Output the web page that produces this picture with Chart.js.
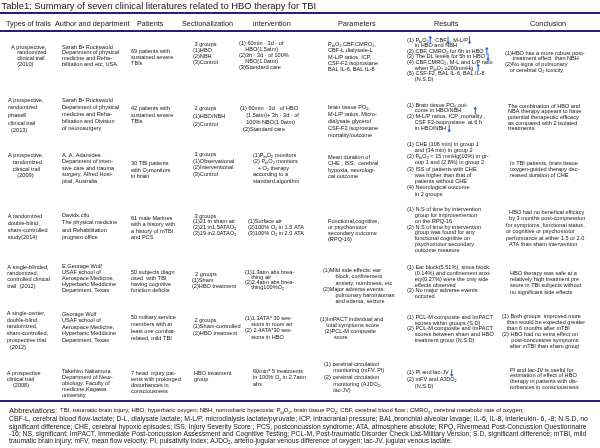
<!DOCTYPE html>
<html>
<head>
<meta charset="utf-8">
<script src="https://cdn.jsdelivr.net/npm/chart.js@4"></script>
<style>
  html, body { margin: 0; padding: 0; background: #fff; }
  canvas { display: block; }
</style>
</head>
<body>
<canvas id="chart" width="600" height="448"></canvas>
<script>
// table text (subscripts written as _2 or _{bt}, arrows as ↑ ↓)
const title = "Table1: Summary of seven clinical literatures related to HBO therapy for TBI";
const columns = ["Types of trails", "Author and department", "Patients", "Sectionalization",
                 "intervention", "Parameters", "Results", "Conclusion"];

const trialTypes = [
  ["A prospective,", "    randomized", "    clinical trail", "    (2010)"],
  ["A prospective,", "randomized", "phaseⅡ", "clinical trail", "  (2013)"],
  ["A prospective,", "   randomized", "   clinical trail", "      (2009)"],
  ["A randomized", "double-blind,", "sham-controlled", "study(2014)"],
  ["A single-blinded,", "randomized,", "controlled clinical", "trail  (2012)"],
  ["A single-center,", "double-blind,", "randomized,", "sham-controlled,", "prospective trial", "  (2012)"],
  ["A prospective", "clinical trail", "    (2008)"]
];
const authors = [
  ["Sarah B• Rockswold", "Department of physical", "medicine and Reha-", "bilitation and etc, USA"],
  ["Sarah B• Rockswold", "Department of physical", "medicine and Reha-", "bilitation and Division", "of neurosurgery"],
  ["A. A. Adamides", "Department of inten-", "sive care and trauma", "surgery, Alfred Hosi-", "pital, Australia"],
  ["Davidx.cifu", "The physical medicine", "and Rehabilitation", "program office"],
  ["E.Georage Wolf", "USAF school of", "Aerospace Medicine,", "Hyperbaric Meddicine", "Department, Texas"],
  ["Georage Wolf", "USAF school of", "Aerospace Medicine,", "Hyperbaric Meddicine", "Department, Texas"],
  ["Takehiro Nakamura", "Department of Neur-", "obiology, Faculty of", "medicine,Kagawa", "university"]
];
const patients = [
  ["69 patients with", "sustained severe", "TBIs"],
  ["42 patients with", "sustained severe", "TBIs"],
  ["30 TBI patients", "with O_2monitors", "in brain"],
  ["61 male Marines", "with a history with", "a history of mTBI", "and PCS"],
  ["50 subjects diagn", "osed  with TBI", "having cognitive", "function deficits"],
  ["50 military service", "members with at", "least one combat-", "related, mild TBI"],
  ["7 head  injury pat-", "ients with prolonged", "disturbances in", "consciousness"]
];
const groups = [
  [" 3 groups:", "(1)HBO", "(2)NBH", "(3)Control"],
  [" 2 groups", "(1)HBO/NBH", "(2)Control"],
  [" 3 groups", "(1)Observational", "(2)Interventional", "(3)Control"],
  [" 3 groups", "(1)21 in sham air", "(2)21 in1.5ATAO_2", "(3)19 in2.0ATAO_2"],
  ["  2 groups", "(1)Sham", "(2)HBO treatment"],
  [" 2 groups", "(1)Sham-controlled", "(2)HBO treatment"],
  ["HBO treatment", "group"]
];
const interventions = [
  ["(1) 60min · 3d · of", "    HBO(1.5atm)", "(2)3h · 3d · of 100%", "    NBO(1.0atm)", "(3)Standard care"],
  ["(1) 60min · 3d · of HBO", "    (1.5atm)+ 3h · 3d · of", "    100% NBO(1.0atm)", "  (2)Standard care"],
  ["(1)P_{bt}O_2 monitors", "(2) P_{bt}O_2 monitors", "   + O_2 therapy", "according to a", "standard algorithm"],
  ["(1)Surface air", "(2)100% O_2 in 1.5 ATA", "(3)100% O_2 in 2.0 ATA"],
  ["(1)1.3atm abs brea-", "    thing air", "(2)2.4atm abs brea-", "    thing100%O_2"],
  ["(1)1.3ATA* 30 ses-", "    sions in room air", "(2) 2.4ATA*30 ses-", "    sions in HBO"],
  ["60min* 5 treatments", "in 100% O_2 in 2.7atm", "abs"]
];
const parameters = [
  ["P_{bt}O_2,CBF,CMRO_2,", "CBF-L,dialysate-L", "M-L/P ratios, ICP,", "CSF-F2 isoprostane", "BAL IL-6, BAL IL-8"],
  ["brain tissue PO_2,", "M-L/P ratios. Micro-", "dialysate glycerol", "CSF-F2 isoprostane", "mortality/outcome"],
  ["Mean duration of", "CHE , ISS,  cerebral", "hypoxia, neurologi-", "cal outcome"],
  ["Functional,cognitive,", "or psychomotor", "secondary outcome", "(RPQ-16)"],
  ["(1)Mild side effects: ear", "        block, confinement", "        anxiety, numbness, etc", "(2)Major adverse events:",
   "        pulmonary barotraumas", "        and edema, seizure"],
  ["(1)ImPACT individual and", "    total symptoms score", "   (2)PCL-M composite", "         score"],
  ["(1) cerebral circulation", "      monitoring (mFV, PI)", "(2) cerebral circulation", "      monitoring (AJDO_2,", "      lac-JV)"]
];
const results = [
  ["(1) P_{bt}O_2↑, CBF↓, M-L/P↓", "     in HBO and NBH", "(2) CBF, CMRO_2 for 6h in HBO ↑", "(3) The DL levels for 5h in HBO ↓",
   "(4) CBF,CMRO_2, M-L and L/P ratio", "     when P_{bt}O_2 ≥200mmHg  ↑", "(5) CSF-F2, BAL IL-6, BAL IL-8", "     (N.S.D)"],
  ["(1) Brain tissue PO_2,out-", "     come in HBO/NBH        ↑", "(2) M-L/P ratios, ICP ,mortality ,",
   "     CSF F2-isoprostane  at 6 h", "     in HBO/NBH ↓"],
  ["(1) CHE (106 min) in group 1", "     and (34 min) in group 2", "(2) P_{bt}O_2 < 15 mmHg(10%) in gr-", "     oup 1 and (2.8%) in group 2",
   "(3) ISS of patients with CHE", "     was higher than that of", "     patients without CHE", "(4) Neurological outcome", "     in 2 groups"],
  ["(1) N.S of time by intervention", "     group for improvementon", "     on the RPQ-16", "(2) N.S of time by intervention",
   "     group was found for any", "     functional cognitive on", "     psychomotor secondary", "     outcome measure"],
  ["(1) Ear block(5.51%), sinus block", "     (0.14%) and confinement anxi-", "     ety(0.27%) were the only side",
   "     effects observed", "(2) No major adverse events", "     occured"],
  ["(1) PCL-M composite and ImPACT", "     scores within groups (S.D)", "(2) PCL-M composite and ImPACT",
   "     scores between sham and HBO", "     treatment group (N.S.D)"],
  ["(1) PI and lac-JV ↓", "(2) mFV and AJDO_2", "     (N.S.D)"]
];
const conclusions = [
  ["(1)HBO has a more robust post-", "     treatment effect  than NBH", "(2)No signs of pulmonary", "   or cerebral O_2 toxicity"],
  ["The combination of HBO and", "NBA therapy appears to have", "potential therapeutic efficacy", "as compared with 2 isolated", "treatments"],
  ["In TBI patients, brain tissue", "oxygen-guided therapy dec-", "reased duration of CHE"],
  ["  HBO had no benefical efficacy", "  by 3 months post-compression", "for symptoms ,functional status ,",
   "or cognitive or psychomotor", "performance at either 1.5 or 2.0", "  ATA than sham intervention"],
  ["HBO therapy was safe at a", "relatively high treatment pre", "ssure in TBI subjects without", "no significant side effects"],
  ["(1) Both groups  improved more", "   than would be expected greater", "   than 6 months after mTBI",
   "(2) HBO had no extra effect on", "      post-concussive symptoms", "     after mTBI than sham group"],
  ["PI and lac-JV is useful for", "estimation of effect of HBO", "therapy in patients with dis-", "turbances in consciousness"]
];
const abbrLabel = "Abbreviations:";
const abbreviations = [
  "TBI, traumatic brain injury; HBO, hyperbaric oxygen; NBH, normobaric hyperoxia; P_{bt}O_2, brain tissue PO_2; CBF, cerebral blood flow ; CMRO_2, cerebral metabolic rate of oxygen;",
  "CBF-L, cerebral blood flow-lactate; D-L, dialysate lactate; M-L/P, microdialysis lactate/pyruvate; ICP, intracranial pressure; BAL,bronchial alveolar lavage; IL-6, IL-8, interleukin- 6, -8; N.S.D, no",
  "significant difference; CHE, cerebral hypoxic episodes; ISS, Injury Severity Score ; PCS, postconcussion syndrome; ATA, atmosphere absolute; RPQ, Rivermead Post-Concussion Questionnaire",
  "-16; NS, significant; ImPACT, Immediate Post-concussion Assessment and Cognitive Testing; PCL-M, Post-traumatic Disorder Check List-Military Version; S.D, significant difference; mTBI, mild",
  "traumatic brain injury; mFV, mean flow velocity; PI, pulsativity index; AJDO_2, arterio-jugular venous difference of oxygen; lac-JV, jugular venous lactate."
];

const tableCols = [trialTypes, authors, patients, groups, interventions, parameters, results, conclusions];

// layout (canvas units)
const FONT = '"Liberation Sans", Arial, sans-serif';
const headerX = [6, 55, 137, 182, 253, 338, 434, 530];
const cellX = [
  [11, 62, 131, 193, 239, 328, 407, 505],
  [8, 62, 131, 193, 240, 328, 407, 508],
  [8, 62, 131, 193, 253, 328, 407, 510],
  [7.7, 62, 131, 193, 248, 328, 407, 506],
  [7.3, 62, 131, 192, 245, 323, 407, 510],
  [6.7, 62, 131, 193, 245, 320, 407, 502],
  [6.7, 62, 131, 194, 253, 324, 407, 510]
];
const cellTop = [
  [47, 47, 51, 44, 43, 44.5, 40, 53],
  [100, 100, 108.7, 108.7, 108, 107, 105, 106],
  [155.7, 155, 163.3, 154.5, 155, 157.7, 144, 163.3],
  [216.7, 215.5, 218, 216, 221.7, 221, 209.3, 212],
  [267.3, 266, 272.7, 274, 272, 270.7, 267.7, 273.3],
  [313.3, 314, 317, 320, 318.5, 319.3, 317.3, 316.7],
  [373.3, 371.7, 373.3, 373.3, 371.7, 364, 372.7, 370]
];
const cellGap = [
  [5.8, 5.8, 6, 6, 6, 6.3, 5.6, 5.8],
  [7.7, 7.2, 6.3, 8, 7, 7, 5.8, 5.7],
  [6.7, 6.5, 6.7, 6.7, 6.5, 6.2, 6.25, 6],
  [6.9, 7.3, 6.5, 5.8, 5.8, 6.3, 5.9, 6.5],
  [6.3, 6.1, 5.9, 6.3, 5, 6.2, 5.8, 6.3],
  [6.8, 6.5, 7, 6.5, 6.2, 6, 5.7, 5.9],
  [6.3, 5.9, 5.9, 6, 6.2, 6.7, 6.7, 5.9]
];
const ruleY = [13, 31, 401];
const abbrY = [410.7, 419, 426.7, 434, 441.3];
const abbrRight = [525, 588, 588, 588, 453];

function drawRich(ctx, str, x, y, size, color) {
  let cx = x, i = 0;
  while (i < str.length) {
    const ch = str[i];
    if (ch === '_') {
      let sub;
      if (str[i + 1] === '{') { const j = str.indexOf('}', i); sub = str.slice(i + 2, j); i = j + 1; }
      else { sub = str[i + 1]; i += 2; }
      ctx.font = `${size * 0.68}px ${FONT}`;
      ctx.fillStyle = color;
      ctx.fillText(sub, cx, y + size * 0.28);
      cx += ctx.measureText(sub).width;
      continue;
    }
    if (ch === '↑' || ch === '↓') {
      const up = ch === '↑';
      const h = size * 0.62;
      ctx.save();
      ctx.strokeStyle = '#2457d6';
      ctx.fillStyle = '#2457d6';
      ctx.lineWidth = 1;
      ctx.beginPath();
      ctx.moveTo(cx + 1.5, y - h);
      ctx.lineTo(cx + 1.5, y + h);
      ctx.stroke();
      ctx.beginPath();
      const tip = up ? y - h - 0.8 : y + h + 0.8;
      const base = up ? tip + 2.6 : tip - 2.6;
      ctx.moveTo(cx + 1.5, tip);
      ctx.lineTo(cx - 0.3, base);
      ctx.lineTo(cx + 3.3, base);
      ctx.closePath();
      ctx.fill();
      ctx.restore();
      cx += 3.5;
      i++;
      continue;
    }
    let j = i;
    while (j < str.length && !'_↑↓'.includes(str[j])) j++;
    const run = str.slice(i, j);
    ctx.font = `${size}px ${FONT}`;
    ctx.fillStyle = color;
    ctx.fillText(run, cx, y);
    cx += ctx.measureText(run).width;
    i = j;
  }
  return cx - x;
}

function richWidth(ctx, str, size) {
  ctx.save();
  ctx.globalAlpha = 0;
  const w = drawRich(ctx, str, 0, -50, size, '#000');
  ctx.restore();
  return w;
}

const tablePlugin = {
  id: 'tableText',
  afterDatasetsDraw(chart) {
    const ctx = chart.ctx;
    const sx = chart.scales.x, sy = chart.scales.y;
    const px = v => sx.getPixelForValue(v);
    const py = v => sy.getPixelForValue(v);
    const ink = '#161616';
    ctx.save();
    ctx.textBaseline = 'middle';
    ctx.textAlign = 'left';

    drawRich(ctx, title, px(1.5), py(6), 9.4, ink);

    columns.forEach((name, c) => drawRich(ctx, name, px(headerX[c]), py(24), 7.3, ink));

    tableCols.forEach((col, c) => {
      col.forEach((lines, r) => {
        lines.forEach((line, k) => {
          const y = cellTop[r][c] + k * cellGap[r][c];
          drawRich(ctx, line, px(cellX[r][c]), py(y), 5.6, ink);
        });
      });
    });

    // abbreviations footnote: each line sized to its width in the source
    const labW = drawRich(ctx, abbrLabel, px(9), py(abbrY[0]), 7.6, ink);
    abbreviations.forEach((line, k) => {
      const x0 = k === 0 ? 9 + labW + 3 : 9;
      const natural = richWidth(ctx, line, 10);
      const size = 10 * (px(abbrRight[k]) - px(x0)) / natural;
      drawRich(ctx, line, px(x0), py(abbrY[k]), size, ink);
    });
    ctx.restore();
  }
};

const ruleSets = ruleY.map(y => ({
  data: [{ x: 0, y: y }, { x: 600, y: y }],
  showLine: true,
  borderColor: '#22227a',
  borderWidth: 2,
  pointRadius: 0
}));

const ctx = document.getElementById('chart').getContext('2d');
const chart = new Chart(ctx, {
  type: 'scatter',
  data: { datasets: ruleSets },
  options: {
    responsive: false,
    animation: false,
    devicePixelRatio: 1,
    layout: { padding: 0 },
    plugins: { legend: { display: false }, tooltip: { enabled: false }, title: { display: false } },
    scales: {
      x: { type: 'linear', min: 0, max: 600, display: false },
      y: { type: 'linear', min: 0, max: 448, reverse: true, display: false }
    }
  },
  plugins: [tablePlugin]
});
</script>
</body>
</html>
